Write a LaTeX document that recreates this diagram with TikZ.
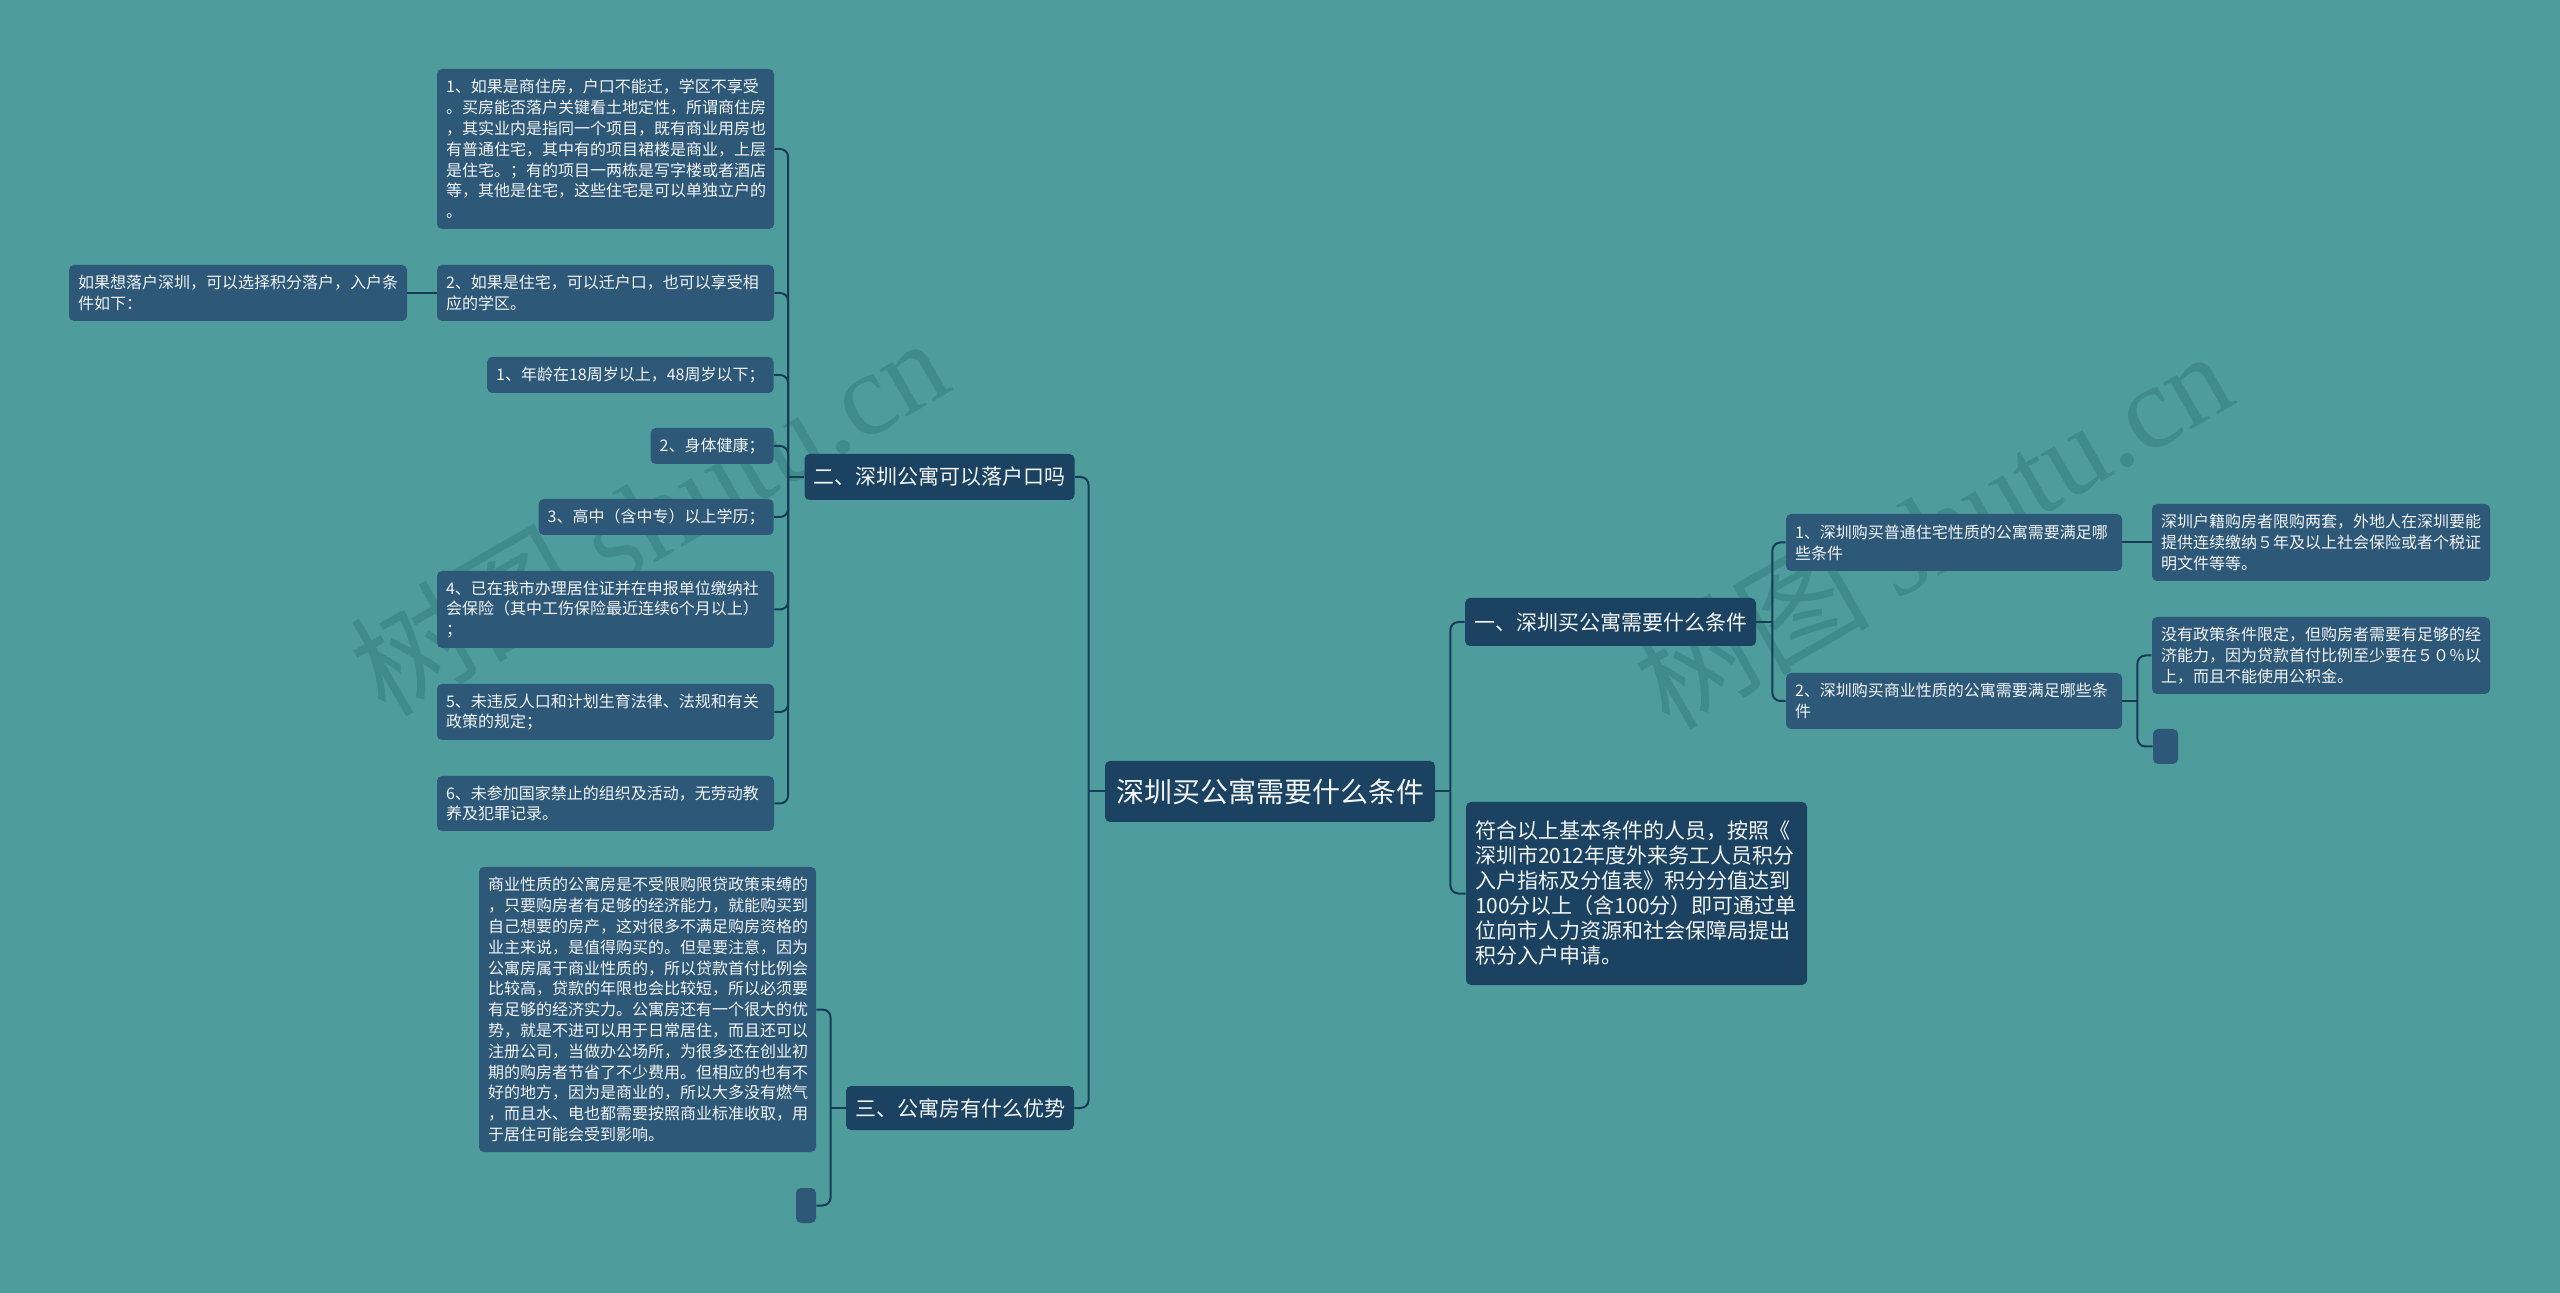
\documentclass[tikz,border=0pt]{standalone}
\usepackage{fontspec}
\setmainfont{Noto Sans CJK SC}
\newfontfamily\wmlatin{Liberation Serif}
\usetikzlibrary{calc}

\definecolor{mapbg}{RGB}{78,157,156}
\definecolor{mapnavy}{RGB}{27,67,97}
\definecolor{mapleaf}{RGB}{46,88,120}
\definecolor{mapline}{RGB}{24,60,88}
\definecolor{mappaper}{RGB}{242,245,248}
\definecolor{mapwm}{RGB}{64,139,139}

\begin{document}
\begin{tikzpicture}[
  x=0.5pt, y=-0.5pt,
  topic/.style={fill=mapnavy, text=mappaper, rounded corners=2.5pt, inner sep=0pt, font=\fontsize{14}{16}\selectfont},
  branch/.style={fill=mapnavy, text=mappaper, rounded corners=2.5pt, inner xsep=4.5pt, inner ysep=0pt, align=left, font=\fontsize{10.5}{12.5}\selectfont},
  leaf/.style={fill=mapleaf, text=mappaper, rounded corners=2.5pt, inner xsep=4.5pt, inner ysep=0pt, align=left, font=\fontsize{8}{10.4}\selectfont},
  link/.style={draw=mapline, line width=1pt, rounded corners=4pt},
  wmark/.style={text=mapwm, rotate=30, inner sep=0pt, font=\fontsize{59}{64}\selectfont}
]
  \fill[mapbg] (0,0) rectangle (2560,1293);

  % watermark
  \node[wmark] (wmL) at (648,515) {树图 {\wmlatin shutu.cn}};
  \node[wmark] (wmR) at (1932,528) {树图 {\wmlatin shutu.cn}};

  \node[topic, minimum width=165pt, minimum height=30.5pt] (root) at (1270,791.5) {深圳买公寓需要什么条件};

  % right side
  \node[branch, minimum width=144.5pt, minimum height=24pt] (yi) at (1610.5,622) {一、深圳买公寓需要什么条件};
  \node[branch, text width=161.5pt, minimum height=91.5pt] (fuhe) at (1636.5,893.5) {符合以上基本条件的人员，按照《\\深圳市2012年度外来务工人员积分\\入户指标及分值表》积分分值达到\\100分以上（含100分）即可通过单\\位向市人力资源和社会保障局提出\\积分入户申请。};
  \node[leaf, text width=159pt, minimum height=28.5pt] (buy1) at (1954,542.5) {1、深圳购买普通住宅性质的公寓需要满足哪\\些条件};
  \node[leaf, text width=159pt, minimum height=28pt] (buy2) at (1954,701) {2、深圳购买商业性质的公寓需要满足哪些条\\件};
  \node[leaf, text width=160pt, minimum height=38.5pt] (huji) at (2321,542.5) {深圳户籍购房者限购两套，外地人在深圳要能\\提供连续缴纳５年及以上社会保险或者个税证\\明文件等等。};
  \node[leaf, text width=160pt, minimum height=38.5pt] (meiyou) at (2321,655.5) {没有政策条件限定，但购房者需要有足够的经\\济能力，因为贷款首付比例至少要在５０％以\\上，而且不能使用公积金。};
  \node[leaf, inner sep=0pt, minimum width=12.5pt, minimum height=17.5pt] (blankR) at (2165.5,746.5) {};

  % left side
  \node[branch, minimum width=134.5pt, minimum height=23pt] (er) at (939.5,477) {二、深圳公寓可以落户口吗};
  \node[branch, minimum width=114pt, minimum height=22pt] (san) at (960,1108) {三、公寓房有什么优势};
  \node[leaf, text width=159.5pt, minimum height=80pt] (shangzhu) at (605.5,149) {1、如果是商住房，户口不能迁，学区不享受\\。买房能否落户关键看土地定性，所谓商住房\\，其实业内是指同一个项目，既有商业用房也\\有普通住宅，其中有的项目裙楼是商业，上层\\是住宅。；有的项目一两栋是写字楼或者酒店\\等，其他是住宅，这些住宅是可以单独立户的\\。};
  \node[leaf, text width=159.5pt, minimum height=28pt] (zhuzhai) at (605.5,293) {2、如果是住宅，可以迁户口，也可以享受相\\应的学区。};
  \node[leaf, text width=160pt, minimum height=28pt] (luohu) at (238,293) {如果想落户深圳，可以选择积分落户，入户条\\件如下：};
  \node[leaf, anchor=east, minimum height=18pt] (age) at (774,375) {1、年龄在18周岁以上，48周岁以下；};
  \node[leaf, anchor=east, minimum height=18pt] (health) at (774,446) {2、身体健康；};
  \node[leaf, anchor=east, minimum height=18pt] (school) at (774,517) {3、高中（含中专）以上学历；};
  \node[leaf, text width=159.5pt, minimum height=38.5pt] (shebao) at (605.5,609.5) {4、已在我市办理居住证并在申报单位缴纳社\\会保险（其中工伤保险最近连续6个月以上）\\；};
  \node[leaf, text width=159.5pt, minimum height=28pt] (jisheng) at (605.5,712) {5、未违反人口和计划生育法律、法规和有关\\政策的规定；};
  \node[leaf, text width=159.5pt, minimum height=27.5pt] (fanzui) at (605.5,803.5) {6、未参加国家禁止的组织及活动，无劳动教\\养及犯罪记录。};
  \node[leaf, text width=159.5pt, minimum height=142.5pt] (youshi) at (647.5,1009.5) {商业性质的公寓房是不受限购限贷政策束缚的\\，只要购房者有足够的经济能力，就能购买到\\自己想要的房产，这对很多不满足购房资格的\\业主来说，是值得购买的。但是要注意，因为\\公寓房属于商业性质的，所以贷款首付比例会\\比较高，贷款的年限也会比较短，所以必须要\\有足够的经济实力。公寓房还有一个很大的优\\势，就是不进可以用于日常居住，而且还可以\\注册公司，当做办公场所，为很多还在创业初\\期的购房者节省了不少费用。但相应的也有不\\好的地方，因为是商业的，所以大多没有燃气\\，而且水、电也都需要按照商业标准收取，用\\于居住可能会受到影响。};
  \node[leaf, inner sep=0pt, minimum width=10pt, minimum height=17.5pt] (blankL) at (806,1205.5) {};

  \coordinate (jL) at ($(root.west)+(-16,0)$);
  \coordinate (jR) at ($(root.east)+(15,0)$);
  \coordinate (jYi) at ($(yi.east)+(16,0)$);
  \coordinate (jBuy) at ($(buy2.east)+(15,0)$);
  \coordinate (jEr) at ($(er.west)+(-16,0)$);
  \coordinate (jSan) at ($(san.west)+(-15,0)$);

  \draw[link] (root.east) -- (jR);
  \foreach \n in {yi,fuhe} \draw[link] (jR) |- (\n.west);
  \draw[link] (yi.east) -- (jYi);
  \foreach \n in {buy1,buy2} \draw[link] (jYi) |- (\n.west);
  \draw[link] (buy1.east) -- (huji.west);
  \draw[link] (buy2.east) -- (jBuy);
  \foreach \n in {meiyou,blankR} \draw[link] (jBuy) |- (\n.west);

  \draw[link] (root.west) -- (jL);
  \foreach \n in {er,san} \draw[link] (jL) |- (\n.east);
  \draw[link] (er.west) -- (jEr);
  \foreach \n in {shangzhu,zhuzhai,age,health,school,shebao,jisheng,fanzui} \draw[link] (jEr) |- (\n.east);
  \draw[link] (zhuzhai.west) -- (luohu.east);
  \draw[link] (san.west) -- (jSan);
  \foreach \n in {youshi,blankL} \draw[link] (jSan) |- (\n.east);
\end{tikzpicture}
\end{document}
